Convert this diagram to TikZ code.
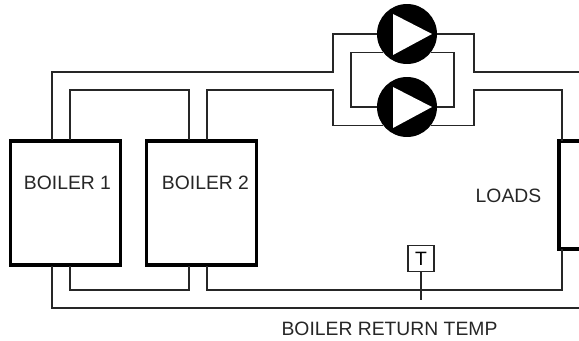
\documentclass[tikz,border=0pt]{standalone}
\usepackage{fontspec}
\setmainfont{Liberation Sans}
\begin{document}
\begin{tikzpicture}[
    x=0.02cm,
    y=-0.02cm,
    boiler/.style={
        draw=black,
        line width=1.9pt,
        minimum width=2.2cm,
        minimum height=2.48cm,
        inner sep=0pt
    },
    pump/.style={
        circle,
        fill=black,
        inner sep=0pt,
        minimum size=1.2cm
    },
    sensor/.style={
        draw=black!85,
        line width=0.7pt,
        minimum width=0.52cm,
        minimum height=0.52cm,
        inner sep=0pt,
        font=\fontsize{11}{13}\selectfont
    },
    lbl/.style={
        inner sep=0pt,
        text=black!85,
        font=\fontsize{11}{13}\selectfont
    },
    pipe/.style={draw=black!85, line width=0.8pt}
]
    \clip (0,0) rectangle (579,341);

    \node[boiler] (boiler1) at (65.5,203) {};
    \node[boiler] (boiler2) at (201.5,203) {};
    \node[boiler, minimum width=1.2cm, minimum height=2.16cm] (loads) at (589,195) {};
    \node[pump] (pump1) at (407,34) {};
    \node[pump] (pump2) at (407,107) {};
    \node[sensor] (tsens) at (421,258.5) {T};

    \foreach \p in {pump1,pump2}
        \fill[white] ([shift={(-14,-20)}]\p.center) -- ([shift={(-14,21)}]\p.center)
            -- ([shift={(25,0)}]\p.center) -- cycle;

    \node[lbl] (b1text) at (67.5,183) {BOILER 1};
    \node[lbl] (b2text) at (205.5,183) {BOILER 2};
    \node[lbl] (loadstext) at (508.5,196) {LOADS};
    \node[lbl] (returntext) at (389.5,329) {BOILER RETURN TEMP};

    % boiler connection points
    \coordinate (b1supply) at (52,140);
    \coordinate (b1inner) at (70,140);
    \coordinate (b2inner) at (189,140);
    \coordinate (b2supply) at (207,140);
    \coordinate (b1return) at (52,266);
    \coordinate (b1back) at (70,266);
    \coordinate (b2back) at (189,266);
    \coordinate (b2return) at (207,266);
    \coordinate (loadin) at (562,141);
    \coordinate (loadout) at (562,249);
    \coordinate (outerend) at (579,72);
    \coordinate (returnend) at (579,308);
    \coordinate (tsensend) at (421,300);

    % supply side
    \draw[pipe] (b1supply) |- (333,72) |- (pump1.west);
    \draw[pipe] (b2supply) |- (333,90) |- (pump2.217);
    \draw[pipe] (b1inner) |- (189,90) -- (b2inner);
    \draw[pipe] (pump1.217) -| (351,107) -- (pump2.west);
    \draw[pipe] (pump1.-37) -| (454,107) -- (pump2.east);
    \draw[pipe] (pump1.east) -| (474,72) -- (outerend);
    \draw[pipe] (pump2.-37) -| (474,90) -| (loadin);

    % return side
    \draw[pipe] (b1return) |- (returnend);
    \draw[pipe] (b1back) |- (189,290) -- (b2back);
    \draw[pipe] (b2return) |- (562,290) -- (loadout);
    \draw[pipe] (tsens) -- (tsensend);
\end{tikzpicture}
\end{document}
